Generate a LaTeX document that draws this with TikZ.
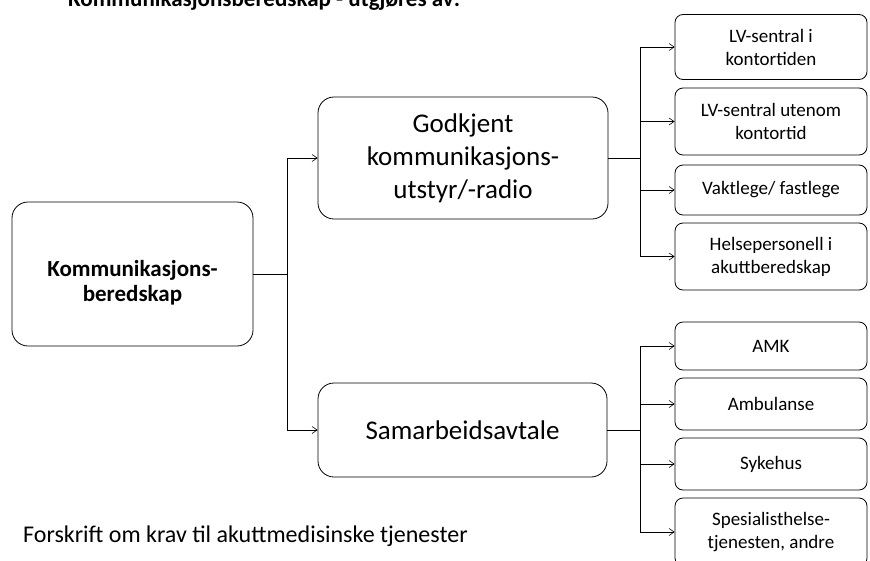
\documentclass[tikz,border=0pt]{standalone}
\usepackage{fontspec}
\setmainfont{Carlito}
\usetikzlibrary{arrows.meta}

\begin{document}
\begin{tikzpicture}[x=1pt,y=-1pt,
  box/.style={draw, line width=0.8pt, rounded corners=16pt, align=center,
    inner sep=2pt},
  bigbox/.style={box, font=\fontsize{27}{33}\selectfont},
  smallbox/.style={box, rounded corners=8pt, minimum width=192pt,
    font=\fontsize{19}{23}\selectfont},
  arr/.style={line width=0.6pt, -{Straight Barb[length=5pt,width=7pt]}}]
  \useasboundingbox (0,0) rectangle (870,560);
  % title (cut off at the top)
  \node[anchor=base west, inner sep=0pt, font=\bfseries\fontsize{23}{27}\selectfont] (title)
    at (68,6) {Kommunikasjonsberedskap - utgjøres av:};
  % main boxes
  \node[box, minimum width=241pt, minimum height=144pt] (kb) at (132.5,274) {};
  \node[align=center, font=\bfseries\fontsize{23}{25}\selectfont] (kbT)
    at ([yshift=-9pt]kb.center) {Kommunikasjons-\\beredskap};
  \node[bigbox, minimum width=290pt, minimum height=122pt] (godk) at (463,158)
    {Godkjent\\kommunikasjons-\\utstyr/-radio};
  \node[bigbox, minimum width=289pt, minimum height=94pt] (samb) at (462.5,430)
    {Samarbeidsavtale};
  % right column
  \node[smallbox, minimum height=65pt] (lv1) at (771,47) {LV-sentral i\\kontortiden};
  \node[smallbox, minimum height=67pt] (lv2) at (771,121.5) {LV-sentral utenom\\kontortid};
  \node[smallbox, minimum height=50pt] (vakt) at (771,190) {Vaktlege/ fastlege};
  \node[smallbox, minimum height=67pt] (hp) at (771,256.5) {Helsepersonell i\\akuttberedskap};
  \node[smallbox, minimum height=48pt] (amk) at (771,346) {AMK};
  \node[smallbox, minimum height=52pt] (amb) at (771,404) {Ambulanse};
  \node[smallbox, minimum height=52pt] (syk) at (771,464) {Sykehus};
  \node[smallbox, minimum height=68pt] (spes) at (771,532) {Spesialisthelse-\\tjenesten, andre};
  % source
  \node[anchor=base west, inner sep=0pt, font=\fontsize{24}{28}\selectfont] (src) at (23,542)
    {Forskrift om krav til akuttmedisinske tjenester};
  % connectors
  \draw[line width=0.6pt] (kb.east) -- ++(34,0) coordinate (jkb);
  \draw[line width=0.6pt] (godk.east) -- ++(32,0) coordinate (jgodk);
  \draw[line width=0.6pt] (samb.east) -- ++(33,0) coordinate (jsamb);
  \foreach \n in {godk,samb}
    \draw[arr] (jkb) |- (\n.west);
  \foreach \n in {lv1,lv2,vakt,hp}
    \draw[arr] (jgodk) |- (\n.west);
  \foreach \n in {amk,amb,syk,spes}
    \draw[arr] (jsamb) |- (\n.west);
\end{tikzpicture}
\end{document}
